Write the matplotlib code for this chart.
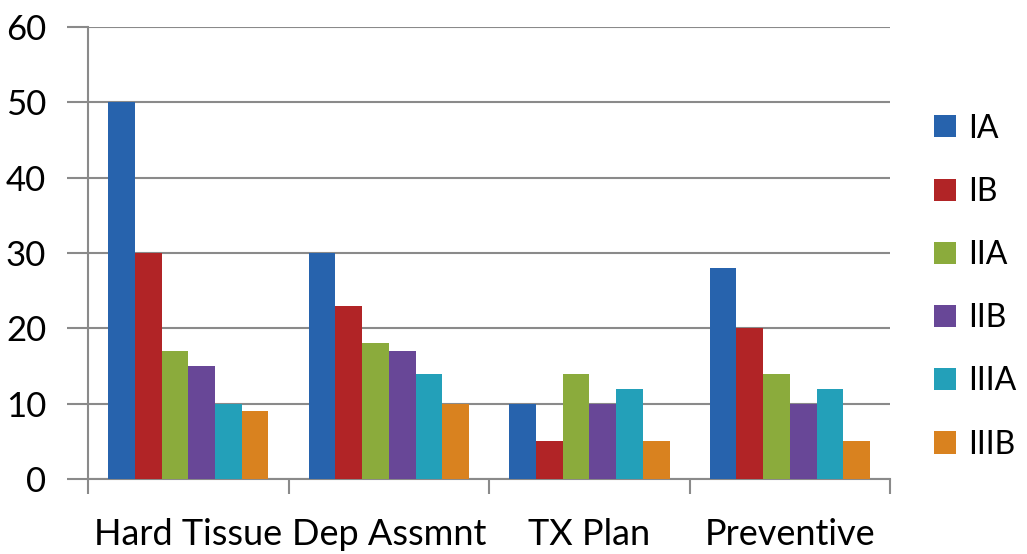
"""Clustered bar chart of task scores by group."""

import matplotlib.pyplot as plt
import numpy as np
from matplotlib.patches import Patch

CATEGORIES = ["Hard Tissue", "Dep Assmnt", "TX Plan", "Preventive"]
GROUPS = ["IA", "IB", "IIA", "IIB", "IIIA", "IIIB"]
IA = [50, 30, 10, 28]
IB = [30, 23, 5, 20]
IIA = [17, 18, 14, 14]
IIB = [15, 17, 10, 10]
IIIA = [10, 14, 12, 12]
IIIB = [9, 10, 5, 5]
Y_TICKS = [0, 10, 20, 30, 40, 50, 60]

COLORS = ["#2763ad", "#b12426", "#8bab3c", "#684797", "#23a0b9", "#d9821f"]
GRID_GRAY = "#8a8a8a"

plt.rcParams["font.family"] = ["Lato", "DejaVu Sans"]

series = [IA, IB, IIA, IIB, IIIA, IIIB]
positions = np.arange(len(CATEGORIES))
group_width = 0.8
bar_width = group_width / len(series)

figure = plt.figure(figsize=(10.27, 5.54), dpi=100)
axis = figure.add_axes([0.0857, 0.1354, 0.781, 0.816])

for index, (values, color) in enumerate(zip(series, COLORS)):
    offset = -group_width / 2 + bar_width * (index + 0.5)
    axis.bar(positions + offset, values, bar_width, color=color,
             linewidth=0, zorder=3)

axis.set_xlim(-0.5, len(CATEGORIES) - 0.5)
axis.set_ylim(0, 60)
axis.set_yticks(Y_TICKS)
axis.tick_params(axis="y", length=15, width=1.5, color=GRID_GRAY,
                 labelsize=25, pad=15)
axis.grid(axis="y", color=GRID_GRAY, linewidth=1.5, zorder=0)

# category boundaries get the tick marks, centres get the labels
axis.set_xticks(np.arange(len(CATEGORIES) + 1) - 0.5)
axis.set_xticklabels([])
axis.tick_params(axis="x", which="major", length=11, width=1.5,
                 color=GRID_GRAY)
axis.set_xticks(positions, minor=True)
axis.set_xticklabels(CATEGORIES, minor=True)
axis.tick_params(axis="x", which="minor", length=0, labelsize=26, pad=28)

for side in ["top", "right"]:
    axis.spines[side].set_visible(False)
for side in ["left", "bottom"]:
    axis.spines[side].set_color(GRID_GRAY)
    axis.spines[side].set_linewidth(1.5)

handles = [Patch(facecolor=color, edgecolor="none") for color in COLORS]
figure.legend(handles, GROUPS, loc="upper left",
              bbox_to_anchor=(0.909, 0.795), frameon=False, fontsize=23,
              handlelength=0.69, handleheight=0.69, handletextpad=0.4,
              labelspacing=1.04, borderaxespad=0, borderpad=0)

figure.savefig("out.png", dpi=100)
